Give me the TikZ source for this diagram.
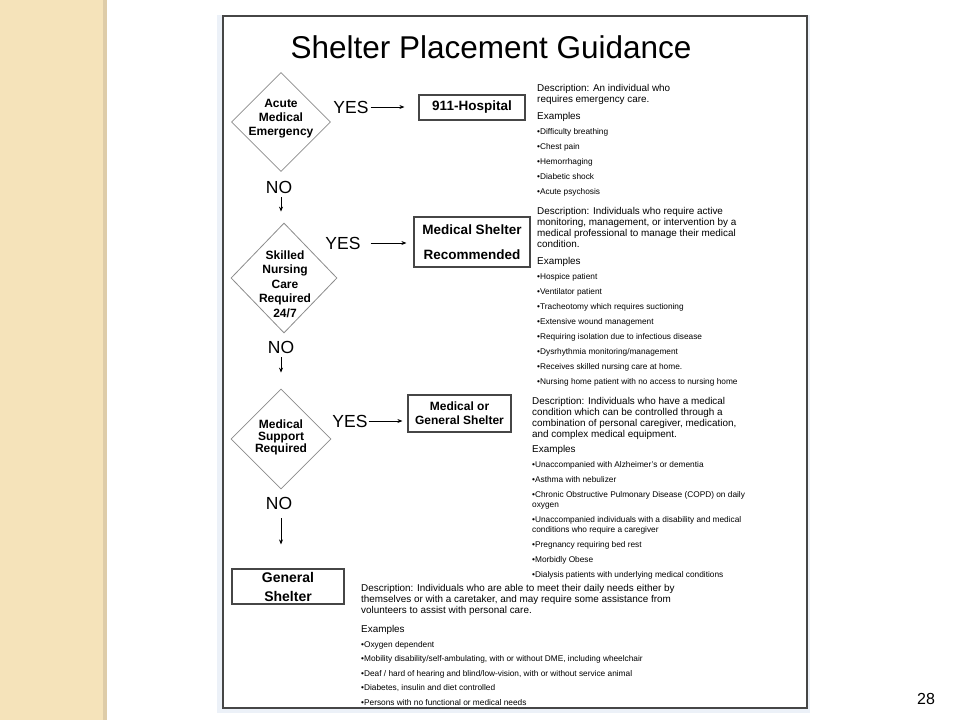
\documentclass[tikz,border=0pt]{standalone}
\usepackage{fontspec}
\setmainfont{Liberation Sans}
\usetikzlibrary{arrows.meta,positioning,shapes.geometric}

\definecolor{beige}{RGB}{245,227,186}
\definecolor{beigeedge}{RGB}{222,204,168}
\definecolor{framegray}{RGB}{70,70,70}
\definecolor{halo}{RGB}{236,241,248}

\begin{document}
\begin{tikzpicture}[
    x=1pt, y=-1pt,
    question/.style={diamond, draw=gray!90, line width=0.8pt, inner sep=0pt, minimum width=99pt, minimum height=99pt},
    qtext/.style={align=center, inner sep=0pt, font=\fontsize{12}{14}\selectfont\bfseries},
    outcome/.style={rectangle, draw=framegray, line width=1.2pt, align=center, inner sep=0pt, font=\fontsize{13.5}{25}\selectfont\bfseries},
    answer/.style={inner sep=0pt, font=\fontsize{17.5}{20}\selectfont},
    desc/.style={anchor=north west, align=left, inner sep=0pt, font=\fontsize{9.9}{11}\selectfont},
    examples/.style={anchor=north west, align=left, inner sep=0pt, font=\fontsize{8.3}{15}\selectfont},
    arrow/.style={-{Stealth[length=5pt,width=4pt]}, line width=0.8pt, draw=black}
]
\useasboundingbox (0,0) rectangle (960,720);

% Slide background
\fill[beige] (0,0) rectangle (104,720);
\fill[beigeedge] (103,0) rectangle (107,720);
\fill[halo] (217,15) rectangle (810,713);
\draw[framegray, line width=1.5pt, fill=white] (223,16) rectangle (807,708);

\node[anchor=base, font=\fontsize{31.5}{36}\selectfont] (title) at (491,58) {Shelter Placement Guidance};

% Questions
\node[question] (q1) at (281,122) {};
\node[qtext] (q1t) at (281,119) {Acute\\Medical\\Emergency};
\node[question, minimum width=106pt, minimum height=110pt] (q2) at (284,278) {};
\node[qtext, font=\fontsize{12}{14.5}\selectfont\bfseries] (q2t) at (285,284) {Skilled\\Nursing\\Care\\Required\\24/7};
\node[question, minimum width=100pt, minimum height=100pt] (q3) at (281,439) {};
\node[qtext, font=\fontsize{12}{12}\selectfont\bfseries] (q3t) at (281,437) {Medical\\Support\\Required};

% Outcomes
\node[outcome, minimum width=106pt, minimum height=25pt] (hosp) at (472,107.5) {911-Hospital};
\node[outcome, minimum width=116pt, minimum height=50pt] (medshelter) at (472,242) {Medical Shelter\\Recommended};
\node[outcome, minimum width=103pt, minimum height=37pt, font=\fontsize{12}{14}\selectfont\bfseries] (medgen) at (459.5,413.5) {Medical or\\General Shelter};
\node[outcome, minimum width=112pt, minimum height=35pt, font=\fontsize{14}{19}\selectfont\bfseries] (general) at (288,586.5) {General\\Shelter};

% Answers
\node[answer] (yes1) at (351,107) {YES};
\node[answer] (yes2) at (343,243) {YES};
\node[answer] (yes3) at (350,421) {YES};
\node[answer] (no1) at (279,187) {NO};
\node[answer] (no2) at (281,347) {NO};
\node[answer] (no3) at (279,503) {NO};

% Arrows
\draw[arrow, shorten <=2pt, shorten >=14pt] (yes1.east) -- (yes1.east -| hosp.west);
\draw[arrow, shorten <=10pt, shorten >=7pt] (yes2.east) -- (yes2.east -| medshelter.west);
\draw[arrow, shorten <=1pt, shorten >=5pt] (yes3.east) -- (yes3.east -| medgen.west);
\draw[arrow, shorten <=4pt, shorten >=11pt] (no1.south -| q1) -- (q2.north -| q1);
\draw[arrow, shorten <=4pt, shorten >=16pt] (no2.south -| q1) -- (q3.north -| q1);
\draw[arrow, shorten <=9pt, shorten >=24pt] (no3.south -| q3) -- (general.north -| q3);

% Descriptions and examples
\node[desc] (desc1) at (537,84.6) {Description: An individual who\\requires emergency care.};
\node[examples] (ex1) at (537,112.6) {{\fontsize{9.9}{15}\selectfont Examples}\\•Difficulty breathing\\•Chest pain\\•Hemorrhaging\\•Diabetic shock\\•Acute psychosis};

\node[desc, font=\fontsize{9.9}{10.7}\selectfont] (desc2) at (537,207.6) {Description: Individuals who require active\\monitoring, management, or intervention by a\\medical professional to manage their medical\\condition.};
\node[examples] (ex2) at (537,257.6) {{\fontsize{9.9}{15}\selectfont Examples}\\•Hospice patient\\•Ventilator patient\\•Tracheotomy which requires suctioning\\•Extensive wound management\\•Requiring isolation due to infectious disease\\•Dysrhythmia monitoring/management\\•Receives skilled nursing care at home.\\•Nursing home patient with no access to nursing home};

\node[desc] (desc3) at (532,396.8) {Description: Individuals who have a medical\\condition which can be controlled through a\\combination of personal caregiver, medication,\\and complex medical equipment.};
\node[examples, font=\fontsize{8.3}{10}\selectfont] (ex3) at (532,445.6) {{\fontsize{9.9}{10}\selectfont Examples}\\[5pt]•Unaccompanied with Alzheimer's or dementia\\[5pt]•Asthma with nebulizer\\[5pt]•Chronic Obstructive Pulmonary Disease (COPD) on daily\\oxygen\\[5pt]•Unaccompanied individuals with a disability and medical\\conditions who require a caregiver\\[5pt]•Pregnancy requiring bed rest\\[5pt]•Morbidly Obese\\[5pt]•Dialysis patients with underlying medical conditions};

\node[desc] (desc4) at (361,584.6) {Description: Individuals who are able to meet their daily needs either by\\themselves or with a caretaker, and may require some assistance from\\volunteers to assist with personal care.};
\node[examples, font=\fontsize{8.3}{14.5}\selectfont] (ex4) at (361,625.6) {{\fontsize{9.9}{14.5}\selectfont Examples}\\•Oxygen dependent\\•Mobility disability/self-ambulating, with or without DME, including wheelchair\\•Deaf / hard of hearing and blind/low-vision, with or without service animal\\•Diabetes, insulin and diet controlled\\•Persons with no functional or medical needs};

\node[font=\fontsize{16}{18}\selectfont] (page) at (926,699) {28};
\end{tikzpicture}
\end{document}
